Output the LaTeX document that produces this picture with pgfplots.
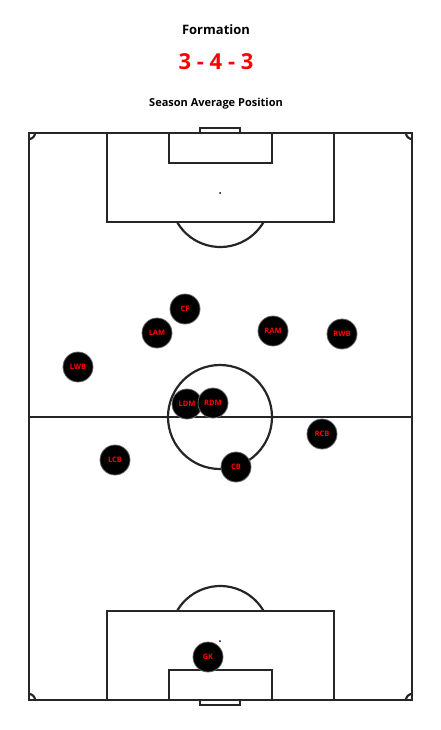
\documentclass[border=0pt]{standalone}
\usepackage{pgfplots}
\pgfplotsset{compat=1.18}
\usepackage{fontspec}
\setmainfont{Open Sans}
\begin{document}
\begin{tikzpicture}
\begin{axis}[x=1pt,y=1pt,y dir=reverse,xmin=0,xmax=441,ymin=0,ymax=730,hide axis,clip=false,scale only axis]
\draw[draw=none] (axis cs:0,0) rectangle (axis cs:441,730);
\begin{scope}[line width=2.2pt,draw=black!85]
\draw (axis cs:29,133) rectangle (axis cs:412,700);
\draw (axis cs:29,417) -- (axis cs:412,417);
\draw (axis cs:220,417) circle[radius=52pt];
\draw (axis cs:107,133) rectangle (axis cs:334,222);
\draw (axis cs:169,133) rectangle (axis cs:272,163);
\draw (axis cs:200,128) rectangle (axis cs:240,133);
\draw (axis cs:107,611) rectangle (axis cs:334,700);
\draw (axis cs:169,670) rectangle (axis cs:272,700);
\draw (axis cs:200,700) rectangle (axis cs:240,705);
\draw (axis cs:177,222) arc[start angle=-150,end angle=-30,radius=50pt];
\draw (axis cs:177,611) arc[start angle=150,end angle=30,radius=50pt];
\draw (axis cs:29,139) arc[start angle=-90,end angle=0,radius=6pt];
\draw (axis cs:406,133) arc[start angle=180,end angle=270,radius=6pt];
\draw (axis cs:35,700) arc[start angle=0,end angle=90,radius=6pt];
\draw (axis cs:412,694) arc[start angle=90,end angle=180,radius=6pt];
\end{scope}
\fill (axis cs:220,193) circle[radius=1pt];
\fill (axis cs:220,641) circle[radius=1pt];
\node[font=\fontsize{13}{15}\selectfont\bfseries] at (axis cs:216,30) {Formation};
\node[font=\fontsize{22}{26}\selectfont\bfseries,red] at (axis cs:216,62) {3 - 4 - 3};
\node[font=\fontsize{11}{13}\selectfont\bfseries] at (axis cs:216,104) {Season Average Position};
\addplot[only marks,mark=*,mark size=15pt,mark options={fill=black,draw=black!60,line width=0.8pt},
  nodes near coords,point meta=explicit symbolic,
  every node near coord/.style={anchor=center,text=red,font=\fontsize{7.5}{9}\selectfont\bfseries}]
 table[meta=label]{
x y label
185 309 CF
157 333 LAM
273 331 RAM
342 334 RWB
78 367 LWB
187 404 LDM
213 403 RDM
322 434 RCB
115 460 LCB
236 467 CB
208 657 GK
};
\end{axis}
\end{tikzpicture}
\end{document}
